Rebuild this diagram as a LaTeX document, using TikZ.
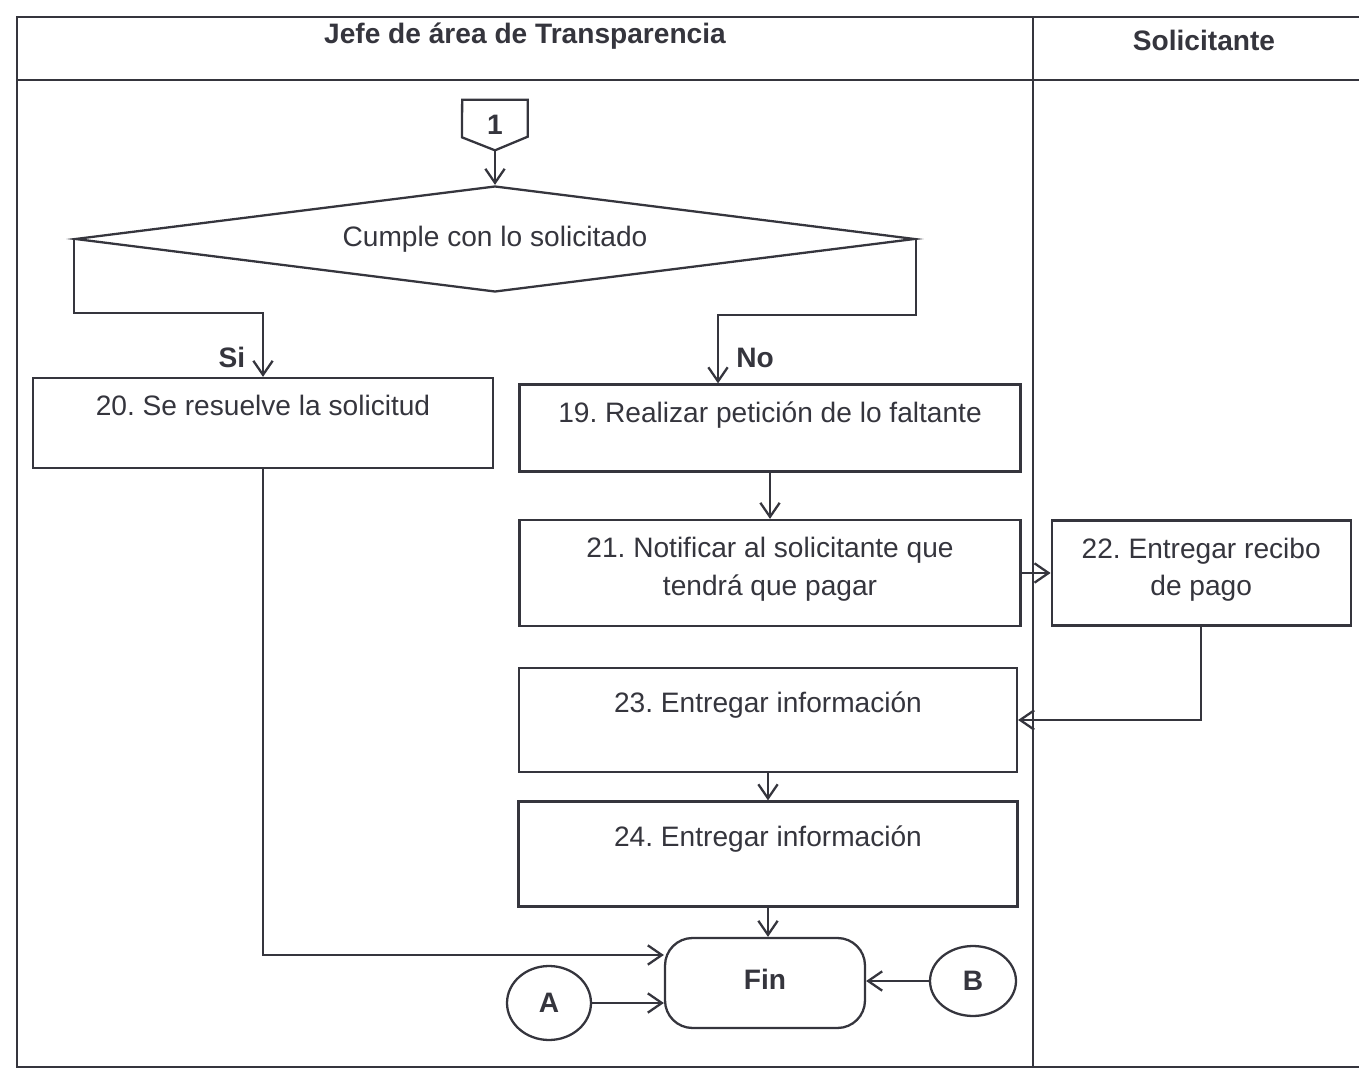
\documentclass[tikz,border=0pt]{standalone}
\usepackage{fontspec}
\setmainfont{Liberation Sans}
\usetikzlibrary{arrows.meta}
\usetikzlibrary{positioning}
\usetikzlibrary{shapes.geometric}
\definecolor{ink}{HTML}{35353D}
\frenchspacing
\tikzset{
    block/.style={
           rectangle,
           draw=ink, line width=1.3pt,
           inner sep=0pt,
           },
    blocktext/.style={
           anchor=north,
           inner sep=0pt,
           align=center,
           text=ink,
           font=\fontsize{16}{21.5}\selectfont,
           yshift=-0.36cm,
           },
    decision/.style={
           diamond,
           aspect=7.9,
           draw=ink, line width=1.3pt,
           inner sep=0pt,
           text=ink,
           font=\fontsize{16}{19}\selectfont,
           },
    connector/.style={
           ellipse,
           draw=ink, line width=1.3pt,
           inner sep=0pt,
           text=ink,
           font=\fontsize{16}{19}\selectfont\bfseries,
           },
    lane/.style={
           draw=ink, line width=1.5pt,
           },
    head/.style={
           text=ink,
           font=\fontsize{16}{19}\selectfont\bfseries,
           },
    lbl/.style={
           text=ink,
           font=\fontsize{16}{19}\selectfont\bfseries,
           },
    flow/.style={
           draw=ink, line width=1.3pt,
           -{Straight Barb[length=8pt,width=11pt]},
           },
}

\begin{document}
\begin{tikzpicture}[x=0.02cm, y=-0.02cm]
	\useasboundingbox (0,0) rectangle (1359,1070);

	% swimlanes
	\draw[lane] (1359,17) -- (17,17) -- (17,1067) -- (1359,1067);
	\draw[lane] (17,80) -- (1359,80);
	\draw[lane] (1033,17) -- (1033,1067);
	\node[head] (jefe) at (525,36) {Jefe de área de Transparencia};
	\node[head] (solic) at (1204,40) {Solicitante};

	% off-page connector
	\node[lbl, minimum width=1.3cm, minimum height=1cm, inner sep=0pt] (con1) at (495,125) {1};
	\draw[lane, line width=1.3pt] (con1.north west) -- (con1.north east) -- ++(0,37)
		-- (con1.south) -- ++(-33,-13) -- cycle;

	\node[decision, minimum width=16.8cm, minimum height=2.12cm] (cumple) at (495,239) {Cumple con lo solicitado};

	\node[block, minimum width=9.2cm, minimum height=1.8cm,
		label={[blocktext]north:20. Se resuelve la solicitud}] (res) at (263,423) {};

	\node[block, minimum width=10.02cm, minimum height=1.74cm,
		label={[blocktext]north:19. Realizar petición de lo faltante}] (pet) at (770,428) {};

	\node[block, minimum width=10.02cm, minimum height=2.12cm,
		label={[blocktext]north:{21. Notificar al solicitante que\\tendrá que pagar}}] (notif) at (770,573) {};

	\node[block, right=0.58cm of notif, minimum width=5.98cm, minimum height=2.1cm,
		label={[blocktext]north:{22. Entregar recibo\\de pago}}] (recibo) {};

	\node[block, minimum width=9.96cm, minimum height=2.08cm,
		label={[blocktext, yshift=-0.14cm]north:23. Entregar información}] (info1) at (768,720) {};

	\node[block, minimum width=9.98cm, minimum height=2.1cm,
		label={[blocktext, yshift=-0.14cm]north:24. Entregar información}] (info2) at (768,854) {};

	\node[block, rounded corners=0.55cm, minimum width=4cm, minimum height=1.8cm,
		text=ink, font=\fontsize{16}{19}\selectfont\bfseries] (fin) at (765,983) {\raisebox{4pt}{Fin}};

	\node[connector, minimum width=1.68cm, minimum height=1.48cm] (conA) at (549,1003) {A};
	\node[connector, minimum width=1.72cm, minimum height=1.4cm] (conB) at (973,981) {B};

	\node[lbl] (si) at (232,357) {Si};
	\node[lbl] (no) at (755,358) {No};

	\draw[flow] (con1.south) -- (cumple.north);
	\draw[flow] (cumple.west) -- ++(0,74) -| (res.north);
	\draw[flow] (cumple.east) -- ++(0,76) -| ([xshift=-1.04cm]pet.north);
	\draw[flow] (pet) -- (notif);
	\draw[flow] (notif) -- (recibo);
	\draw[flow] (recibo.south) |- (info1.east);
	\draw[flow] (info1) -- (info2);
	\draw[flow] (info2.south) -- (info2.south |- fin.north);
	\draw[flow] (res.south) |- ([yshift=0.56cm]fin.west);
	\draw[flow] (conA) -- (conA -| fin.west);
	\draw[flow] (conB) -- (conB -| fin.east);

\end{tikzpicture}
\end{document}
